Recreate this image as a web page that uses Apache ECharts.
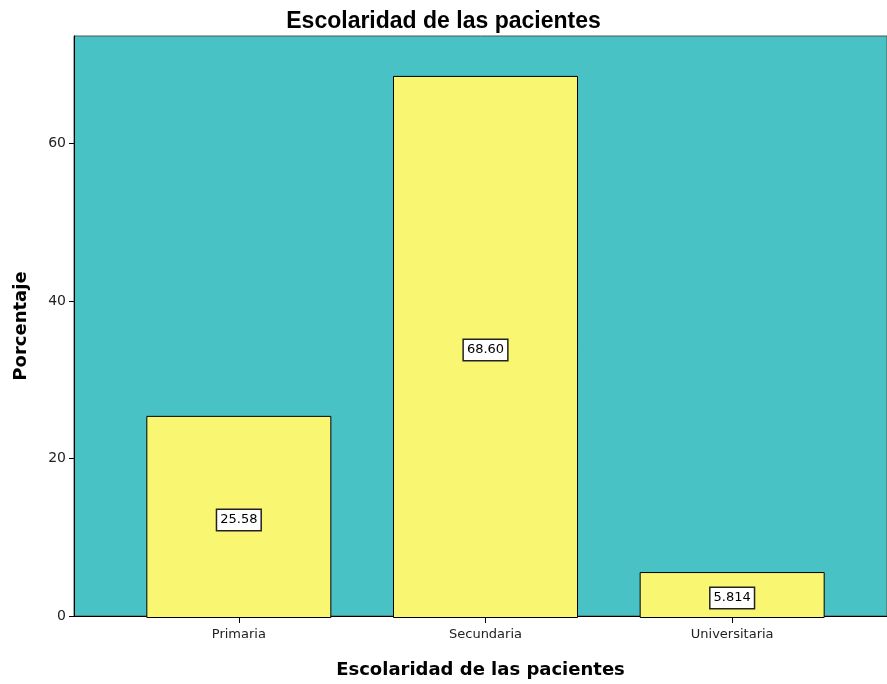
<!DOCTYPE html>
<html><head><meta charset="utf-8">
<script src="https://cdn.jsdelivr.net/npm/echarts@6/dist/echarts.min.js"></script>
<style>html,body{margin:0;padding:0;background:#fff}#c{width:887px;height:684px}</style>
</head><body><div id="c"></div>
<script>
const categories = ['Primaria', 'Secundaria', 'Universitaria'];
const values = [25.58, 68.60, 5.814];
const valueLabels = ['25.58', '68.60', '5.814'];
const yTicks = [0, 20, 40, 60];

const chart = echarts.init(document.getElementById('c'));
chart.setOption({
  animation: false,
  title: {
    text: 'Escolaridad de las pacientes',
    left: 'center', top: 5,
    textStyle: { fontFamily: 'Liberation Sans, Arial', fontWeight: 'bold', fontSize: 23, color: '#000' }
  },
  grid: [
    { left: 74, right: -12, top: 36, bottom: 66, show: true, backgroundColor: '#48C2C5', borderColor: '#555', borderWidth: 1, containLabel: false },
    { left: 115.5, width: 740, top: 36, bottom: 66, containLabel: false }
  ],
  xAxis: [
    { gridIndex: 0, type: 'value', min: 0, max: 1, axisLine: { show: true, lineStyle: { color: '#000', width: 1 } },
      axisTick: { show: false }, axisLabel: { show: false }, splitLine: { show: false },
      name: 'Escolaridad de las pacientes', nameLocation: 'middle', nameGap: 45,
      nameTextStyle: { fontFamily: 'DejaVu Sans', fontWeight: 'bold', fontSize: 18, color: '#000' } },
    { gridIndex: 1, type: 'category', data: categories, axisLine: { show: false },
      axisTick: { show: true, alignWithLabel: true, length: 5, lineStyle: { color: '#000' } },
      axisLabel: { fontFamily: 'DejaVu Sans', fontSize: 13, color: '#222', margin: 10 } }
  ],
  yAxis: [
    { gridIndex: 0, type: 'value', min: 0, max: 73.65,
      axisLine: { show: true, lineStyle: { color: '#000', width: 1 } },
      axisTick: { show: true, inside: false, length: 5, lineStyle: { color: '#000' }, customValues: yTicks },
      axisLabel: { fontFamily: 'DejaVu Sans', fontSize: 14, color: '#222', margin: 8, customValues: yTicks },
      splitLine: { show: false },
      name: 'Porcentaje', nameLocation: 'middle', nameGap: 44,
      nameTextStyle: { fontFamily: 'DejaVu Sans', fontWeight: 'bold', fontSize: 18, color: '#000' } },
    { gridIndex: 1, type: 'value', min: 0, max: 73.65, show: false }
  ],
  series: [{
    type: 'bar', xAxisIndex: 1, yAxisIndex: 1, data: values, barWidth: 185,
    itemStyle: { color: '#F9F771', borderColor: '#000', borderWidth: 1 },
    label: { show: true, position: 'inside', offset: [0, 3], formatter: p => valueLabels[p.dataIndex],
      backgroundColor: '#fff', borderColor: '#222', borderWidth: 1.5, padding: [4, 3, 3, 3],
      fontFamily: 'DejaVu Sans', fontSize: 13, color: '#000' }
  }]
});
</script></body></html>
